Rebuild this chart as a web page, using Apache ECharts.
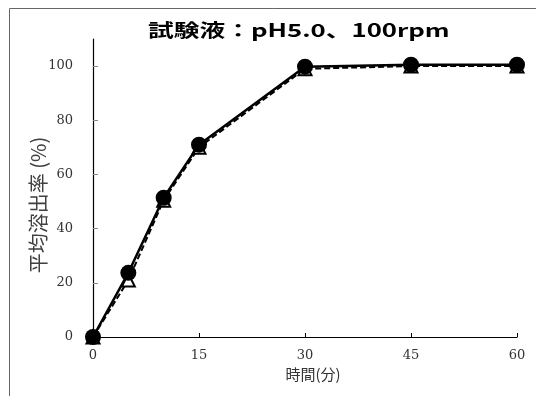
<!DOCTYPE html>
<html><head><meta charset="utf-8">
<script src="https://cdn.jsdelivr.net/npm/echarts@6/dist/echarts.min.js"></script>
<style>html,body{margin:0;padding:0;background:#fff}#c{width:536px;height:396px}</style>
</head><body><div id="c"></div>
<script>
var titleText = '試験液：pH5.0、100rpm';
var xName = '時間(分)';
var yName = '平均溶出率 (%)';
var times = [0, 5, 10, 15, 30, 45, 60];
var seriesA = [0, 23.7, 51.4, 71, 99.8, 100.5, 100.5];
var seriesB = [0, 21, 50.5, 70, 99, 100, 100];
var xTicks = [0, 15, 30, 45, 60];
var yTicks = [0, 20, 40, 60, 80, 100];

function pairs(xs, ys){ return xs.map(function(x,i){ return [x, ys[i]]; }); }

var chart = echarts.init(document.getElementById('c'), null, {renderer:'canvas'});
chart.setOption({
  animation:false,
  backgroundColor:'#fff',
  grid:{left:93, right:19, top:39, bottom:59},
  xAxis:{type:'value', min:0, max:60, interval:15,
    name:xName, nameLocation:'middle', nameGap:29,
    nameTextStyle:{fontFamily:'Noto Sans CJK JP', fontSize:15, color:'#333', padding:[0,0,0,16]},
    axisLine:{lineStyle:{color:'#000', width:1.2}},
    axisTick:{inside:true, length:4, lineStyle:{color:'#000'}},
    axisLabel:{fontFamily:'DejaVu Serif', fontSize:13, color:'#333', margin:12,
      formatter:function(v){ return xTicks.indexOf(v)>=0 ? String(v) : ''; }},
    splitLine:{show:false}},
  yAxis:{type:'value', min:0, max:110, interval:20,
    axisLine:{show:true, lineStyle:{color:'#000', width:1.2}},
    axisTick:{show:true, inside:true, length:5, lineStyle:{color:'#888'}},
    axisLabel:{fontFamily:'DejaVu Serif', fontSize:13, color:'#333', margin:20, showMaxLabel:false,
      formatter:function(v){ return yTicks.indexOf(v)>=0 ? String(v) : ''; }},
    splitLine:{show:false}},
  graphic:[
    {type:'rect', shape:{x:9.5, y:8.5, width:600, height:500}, style:{fill:'none', stroke:'#666', lineWidth:1}, silent:true},
    {type:'text', x:148, y:21, scaleX:1.43, scaleY:1, style:{text:titleText, fontFamily:'Noto Sans CJK JP', fontWeight:'bold', fontSize:18, fill:'#000', textAlign:'left', textVerticalAlign:'top'}},
    {type:'text', x:38, y:205, rotation:Math.PI/2, style:{text:yName, fontFamily:'Noto Sans CJK JP', fontSize:20, fill:'#404040', textAlign:'center', textVerticalAlign:'middle'}}
  ],
  series:[
    {type:'line', data:pairs(times, seriesB), symbol:'triangle', symbolSize:13,
      lineStyle:{color:'#000', width:2, type:[6,3]},
      itemStyle:{color:'#fff', borderColor:'#000', borderWidth:2}, z:2},
    {type:'line', data:pairs(times, seriesA), symbol:'circle', symbolSize:16,
      lineStyle:{color:'#000', width:2.5},
      itemStyle:{color:'#000', borderColor:'#000', borderWidth:0}, z:3}
  ]
});
</script></body></html>
